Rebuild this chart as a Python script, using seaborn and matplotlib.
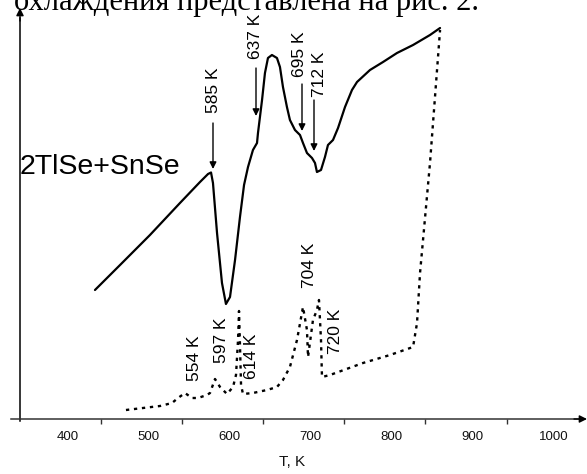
import numpy as np
import pandas as pd
import seaborn as sns
import matplotlib
matplotlib.use("Agg")
import matplotlib.pyplot as plt
from matplotlib.ticker import FixedLocator

# ---------------- data ----------------
# heating curve (solid): temperature, K  /  DTA signal (arbitrary units)
heat_T = [434.0, 464.9, 501.8, 538.8, 563.5, 573.4, 577.1, 579.5, 584.5, 590.6,
          595.5, 600.5, 606.7, 612.8, 617.8, 622.7, 628.8, 633.8, 635.0, 640.0,
          643.6, 647.3, 652.2, 658.4, 662.1, 665.8, 670.7, 674.4, 680.6, 686.8,
          690.5, 695.4, 701.6, 705.3, 707.7, 712.7, 717.6, 721.3, 727.5, 733.7,
          742.3, 750.9, 757.1, 773.1, 789.2, 806.4, 826.2, 847.1, 859.5]
heat_S = [129, 154, 184, 216, 237, 245, 246.5, 236, 186, 136,
          115, 122, 159, 202, 234, 252, 269, 276, 286, 319,
          346, 361, 364, 361, 352, 332, 312, 299, 289, 284,
          276, 266, 261, 256, 247, 249, 262, 274, 279, 291,
          312, 329, 337, 349, 357, 366, 374, 384, 391]

# cooling curve (dotted)
cool_T = [472.2, 493.2, 514.2, 529.0, 536.4, 545.0, 553.6, 561.0, 572.1, 575.8,
          582.0, 588.2, 596.8, 604.2, 607.9, 610.4, 611.6, 612.8, 614.1, 616.5,
          628.8, 646.1, 658.4, 665.8, 674.4, 683.1, 690.5, 695.4, 696.7, 702.8,
          707.7, 710.2, 712.7, 713.9, 723.8, 764.5, 797.8, 826.2, 831.1, 834.8,
          838.5, 847.1, 859.5]
cool_S = [9, 11, 13, 16, 21, 26, 21, 21, 24, 26,
          40, 32, 25, 32, 44, 79, 108, 74, 34, 25,
          26, 29, 32, 39, 52, 79, 112, 89, 62, 99,
          109, 119, 79, 42, 44, 56, 64, 72, 96, 146,
          179, 256, 389]

x_ticks = [400, 500, 600, 700, 800, 900, 1000]
x_minor = [441.5, 541.5, 641.5, 741.5, 841.5, 941.5]
heat_labels = ["585 K", "637 K", "695 K", "712 K"]
cool_labels = ["554 K", "597 K", "614 K", "704 K", "720 K"]
sample_label = "2TlSe+SnSe"
x_label = "T, K"
top_text = "охлаждения представлена на рис. 2."

# ---------------- layout helpers (pixel -> data) ----------------
W, H = 587, 474
def tx(px):
    return 400 + (px - 67.4) / 0.811
def sy(py):
    return 419 - py

# label centres (px) and arrows (px: x, y_start, y_tip)
heat_text_pos = [(213, 90), (255.5, 36), (299, 54), (319, 74)]
heat_arrows = [(213, 123, 169), (256, 68, 116), (302, 84, 131), (314, 100, 151)]
cool_text_pos = [(195, 358), (222, 340), (252, 356), (309, 265), (335, 331)]

sns.set_theme(style="white")
plt.rcParams['font.family'] = ['Liberation Sans', 'DejaVu Sans']

fig = plt.figure(figsize=(W / 100, H / 100), dpi=100)
ax = fig.add_axes([0, 0, 1, 1])
ax.set_facecolor("white")

heat = pd.DataFrame({"T": heat_T, "S": heat_S})
cool = pd.DataFrame({"T": cool_T, "S": cool_S})

sns.lineplot(data=heat, x="T", y="S", sort=False, estimator=None, ax=ax,
             color="black", lw=1.6)
sns.lineplot(data=cool, x="T", y="S", sort=False, estimator=None, ax=ax,
             color="black", lw=1.7)
ax.lines[-1].set_dashes((1.4, 2.0))

ax.set_xlim(tx(0), tx(W))
ax.set_ylim(sy(H), sy(0))

# axes
for s in ["top", "right"]:
    ax.spines[s].set_visible(False)
ax.spines["bottom"].set_position(("data", 0))
ax.spines["bottom"].set_bounds(tx(11), tx(580))
ax.spines["bottom"].set_color("#333333")
ax.spines["bottom"].set_linewidth(1.1)
ax.spines["left"].set_position(("data", tx(20)))
ax.spines["left"].set_bounds(sy(421), sy(18))
ax.spines["left"].set_color("black")
ax.spines["left"].set_linewidth(1.1)
ax.annotate("", xy=(tx(587), 0), xytext=(tx(574), 0),
            arrowprops=dict(arrowstyle="-|>", color="black", lw=1.0,
                            mutation_scale=11, shrinkA=0, shrinkB=0))
ax.annotate("", xy=(tx(20), sy(8)), xytext=(tx(20), sy(21)),
            arrowprops=dict(arrowstyle="-|>", color="black", lw=1.0,
                            mutation_scale=11, shrinkA=0, shrinkB=0))

ax.xaxis.set_major_locator(FixedLocator(x_ticks))
ax.set_xticklabels([str(v) for v in x_ticks])
ax.xaxis.set_minor_locator(FixedLocator(x_minor))
ax.tick_params(axis="x", which="major", length=0, pad=9, labelsize=9.5,
               labelcolor="#111111")
ax.tick_params(axis="x", which="minor", bottom=True, length=3.5, width=1.0,
               direction="out", color="#333333")
ax.set_yticks([])
ax.set_xlabel("")
ax.set_ylabel("")

ax.text(tx(292), sy(462), x_label, ha="center", va="center", fontsize=11,
        color="#111111")

# annotations
for lab, (px, py) in zip(heat_labels, heat_text_pos):
    ax.text(tx(px), sy(py), lab, rotation=90, ha="center", va="center",
            fontsize=12.5, color="black")
for (px, y0, y1) in heat_arrows:
    ax.annotate("", xy=(tx(px), sy(y1)), xytext=(tx(px), sy(y0)),
                arrowprops=dict(arrowstyle="-|>", color="black", lw=1.0,
                                mutation_scale=10, shrinkA=0, shrinkB=0))
for lab, (px, py) in zip(cool_labels, cool_text_pos):
    ax.text(tx(px), sy(py), lab, rotation=90, ha="center", va="center",
            fontsize=12.5, color="black")

ax.text(tx(20), sy(167), sample_label, ha="left", va="center", fontsize=20.5,
        color="black")

# line of body text cut off by the top edge of the scan, as in the reference
ax.text(tx(14), sy(10), top_text, ha="left", va="baseline", fontsize=22,
        family=["Liberation Serif", "DejaVu Serif"], color="black")

fig.savefig("out.png", dpi=100)
